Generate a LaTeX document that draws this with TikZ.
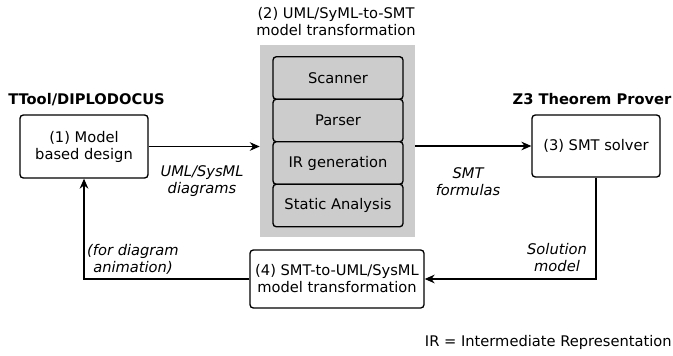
\documentclass[tikz,border=0pt]{standalone}
\usepackage{fontspec}
\setmainfont{DejaVu Sans}
\usetikzlibrary{arrows.meta}

\begin{document}
\begin{tikzpicture}[x=0.75pt,y=-0.75pt,
    font=\fontsize{11}{12.75}\selectfont,
    box/.style={draw,line width=1pt,rounded corners=2.5pt,align=center,inner sep=0pt},
    stage/.style={box,fill=black!20,minimum width=97.5pt,minimum height=31.9pt},
    lbl/.style={align=center,inner sep=0pt,font=\fontsize{11}{12.75}\selectfont\itshape},
    tool/.style={inner sep=0pt,anchor=base,font=\fontsize{11}{12.75}\selectfont\bfseries},
    conn/.style={line width=0.9pt},
    arr/.style={conn,-{Stealth[length=7.5pt,width=6.5pt]}}]
      \useasboundingbox (0,0) rectangle (673,356);
      \node[tool] (ttool) at (86.5,104) {TTool/DIPLODOCUS};
      \node[tool] (z3) at (592,104) {Z3 Theorem Prover};
      \node[box,minimum width=96pt,minimum height=47.25pt] (design) at (84,146.5) {(1) Model\\based design};
      \node[fill=black!20,minimum width=116.25pt,minimum height=144pt,inner sep=0pt] (transf) at (337.5,141) {};
      \node[align=center,inner sep=0pt] (transftitle) at (336,22) {(2) UML/SyML-to-SMT\\model transformation};
      \node[stage] (scanner) at (338,78) {Scanner};
      \node[stage] (parser) at (338,120.5) {Parser};
      \node[stage] (irgen) at (338,163) {IR generation};
      \node[stage] (analysis) at (338,205.5) {Static Analysis};
      \node[box,minimum width=96pt,minimum height=46.5pt] (solver) at (596,146) {(3) SMT solver};
      \node[box,minimum width=130.5pt,minimum height=43.5pt] (back) at (337,279) {(4) SMT-to-UML/SysML\\model transformation};
      \node[lbl] (diagrams) at (202,181) {UML/SysML\\diagrams};
      \node[lbl] (formulas) at (468,182) {SMT\\formulas};
      \node[lbl] (solution) at (557,258) {Solution\\model};
      \node[lbl] (animation) at (133,259) {(for diagram\\animation)};
      \node[inner sep=0pt,anchor=base east] (irnote) at (672,346) {IR = Intermediate Representation};
      \draw[arr] (design.east) -- (design.east -| transf.west);
      \draw[arr] (transf.east |- solver.west) -- (solver.west);
      \draw[arr] (solver.south) |- (back.east);
      \draw[arr] (back.west) -| (design.south);
\end{tikzpicture}
\end{document}
